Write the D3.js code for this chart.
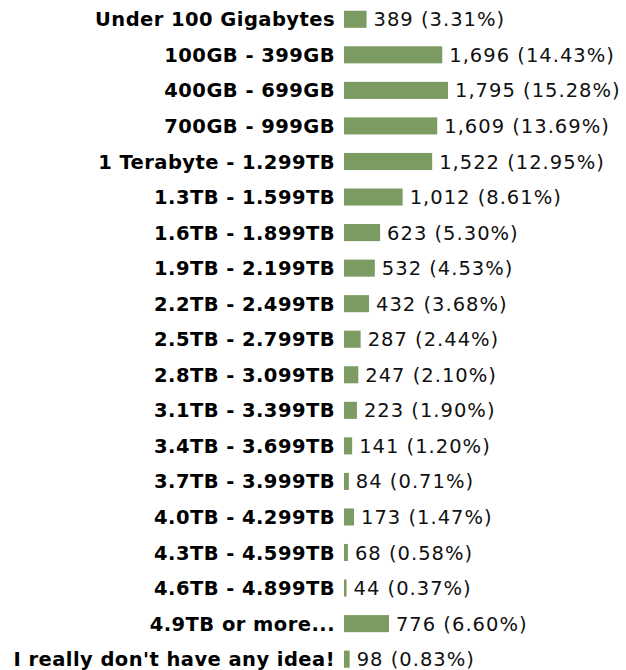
<!DOCTYPE html>
<html>
<head>
<meta charset="utf-8">
<script src="https://cdn.jsdelivr.net/npm/d3@7"></script>
<style>
  body { margin: 0; background: #fff; }
  svg text { font-family: "DejaVu Sans", Verdana, sans-serif; }
</style>
</head>
<body>
<div id="chart"></div>
<script>
const categories = [
  "Under 100 Gigabytes", "100GB - 399GB", "400GB - 699GB", "700GB - 999GB",
  "1 Terabyte - 1.299TB", "1.3TB - 1.599TB", "1.6TB - 1.899TB", "1.9TB - 2.199TB",
  "2.2TB - 2.499TB", "2.5TB - 2.799TB", "2.8TB - 3.099TB", "3.1TB - 3.399TB",
  "3.4TB - 3.699TB", "3.7TB - 3.999TB", "4.0TB - 4.299TB", "4.3TB - 4.599TB",
  "4.6TB - 4.899TB", "4.9TB or more...", "I really don't have any idea!"
];
const counts = [389, 1696, 1795, 1609, 1522, 1012, 623, 532, 432, 287, 247, 223, 141, 84, 173, 68, 44, 776, 98];
const percents = ["3.31%", "14.43%", "15.28%", "13.69%", "12.95%", "8.61%", "5.30%", "4.53%",
  "3.68%", "2.44%", "2.10%", "1.90%", "1.20%", "0.71%", "1.47%", "0.58%", "0.37%", "6.60%", "0.83%"];

const width = 626;
const height = 670;
const barLeft = 344;

const rows = categories.map((c, i) => ({ label: c, count: counts[i], pct: percents[i] }));

const svg = d3.select("#chart").append("svg")
  .attr("width", width)
  .attr("height", height);

const y = d3.scaleBand()
  .domain(categories)
  .range([1.5, 1.5 + 19 * 35.55])
  .paddingInner(0.52)
  .paddingOuter(0.26);

const x = d3.scaleLinear()
  .domain([0, d3.max(counts)])
  .range([0, 104]);

const g = svg.append("g");

const row = g.selectAll("g.row").data(rows).join("g")
  .attr("class", "row")
  .attr("transform", d => `translate(0, ${y(d.label)})`);

// labels, right aligned against the bars
row.append("text")
  .attr("x", barLeft - 9)
  .attr("y", y.bandwidth() / 2)
  .attr("dy", "0.36em")
  .attr("text-anchor", "end")
  .attr("font-weight", "bold")
  .attr("font-size", 19.5)
  .attr("letter-spacing", 0.45)
  .attr("fill", "#000")
  .text(d => d.label);

row.append("rect")
  .attr("x", barLeft)
  .attr("y", 0)
  .attr("width", d => Math.max(1.5, x(d.count)))
  .attr("height", y.bandwidth())
  .attr("fill", "#7b9b62");

row.append("text")
  .attr("x", d => barLeft + Math.max(1.5, x(d.count)) + 7)
  .attr("y", y.bandwidth() / 2)
  .attr("dy", "0.36em")
  .attr("font-size", 19.5)
  .attr("letter-spacing", 1)
  .attr("fill", "#111")
  .text(d => `${d3.format(",")(d.count)} (${d.pct})`);
</script>
</body>
</html>
